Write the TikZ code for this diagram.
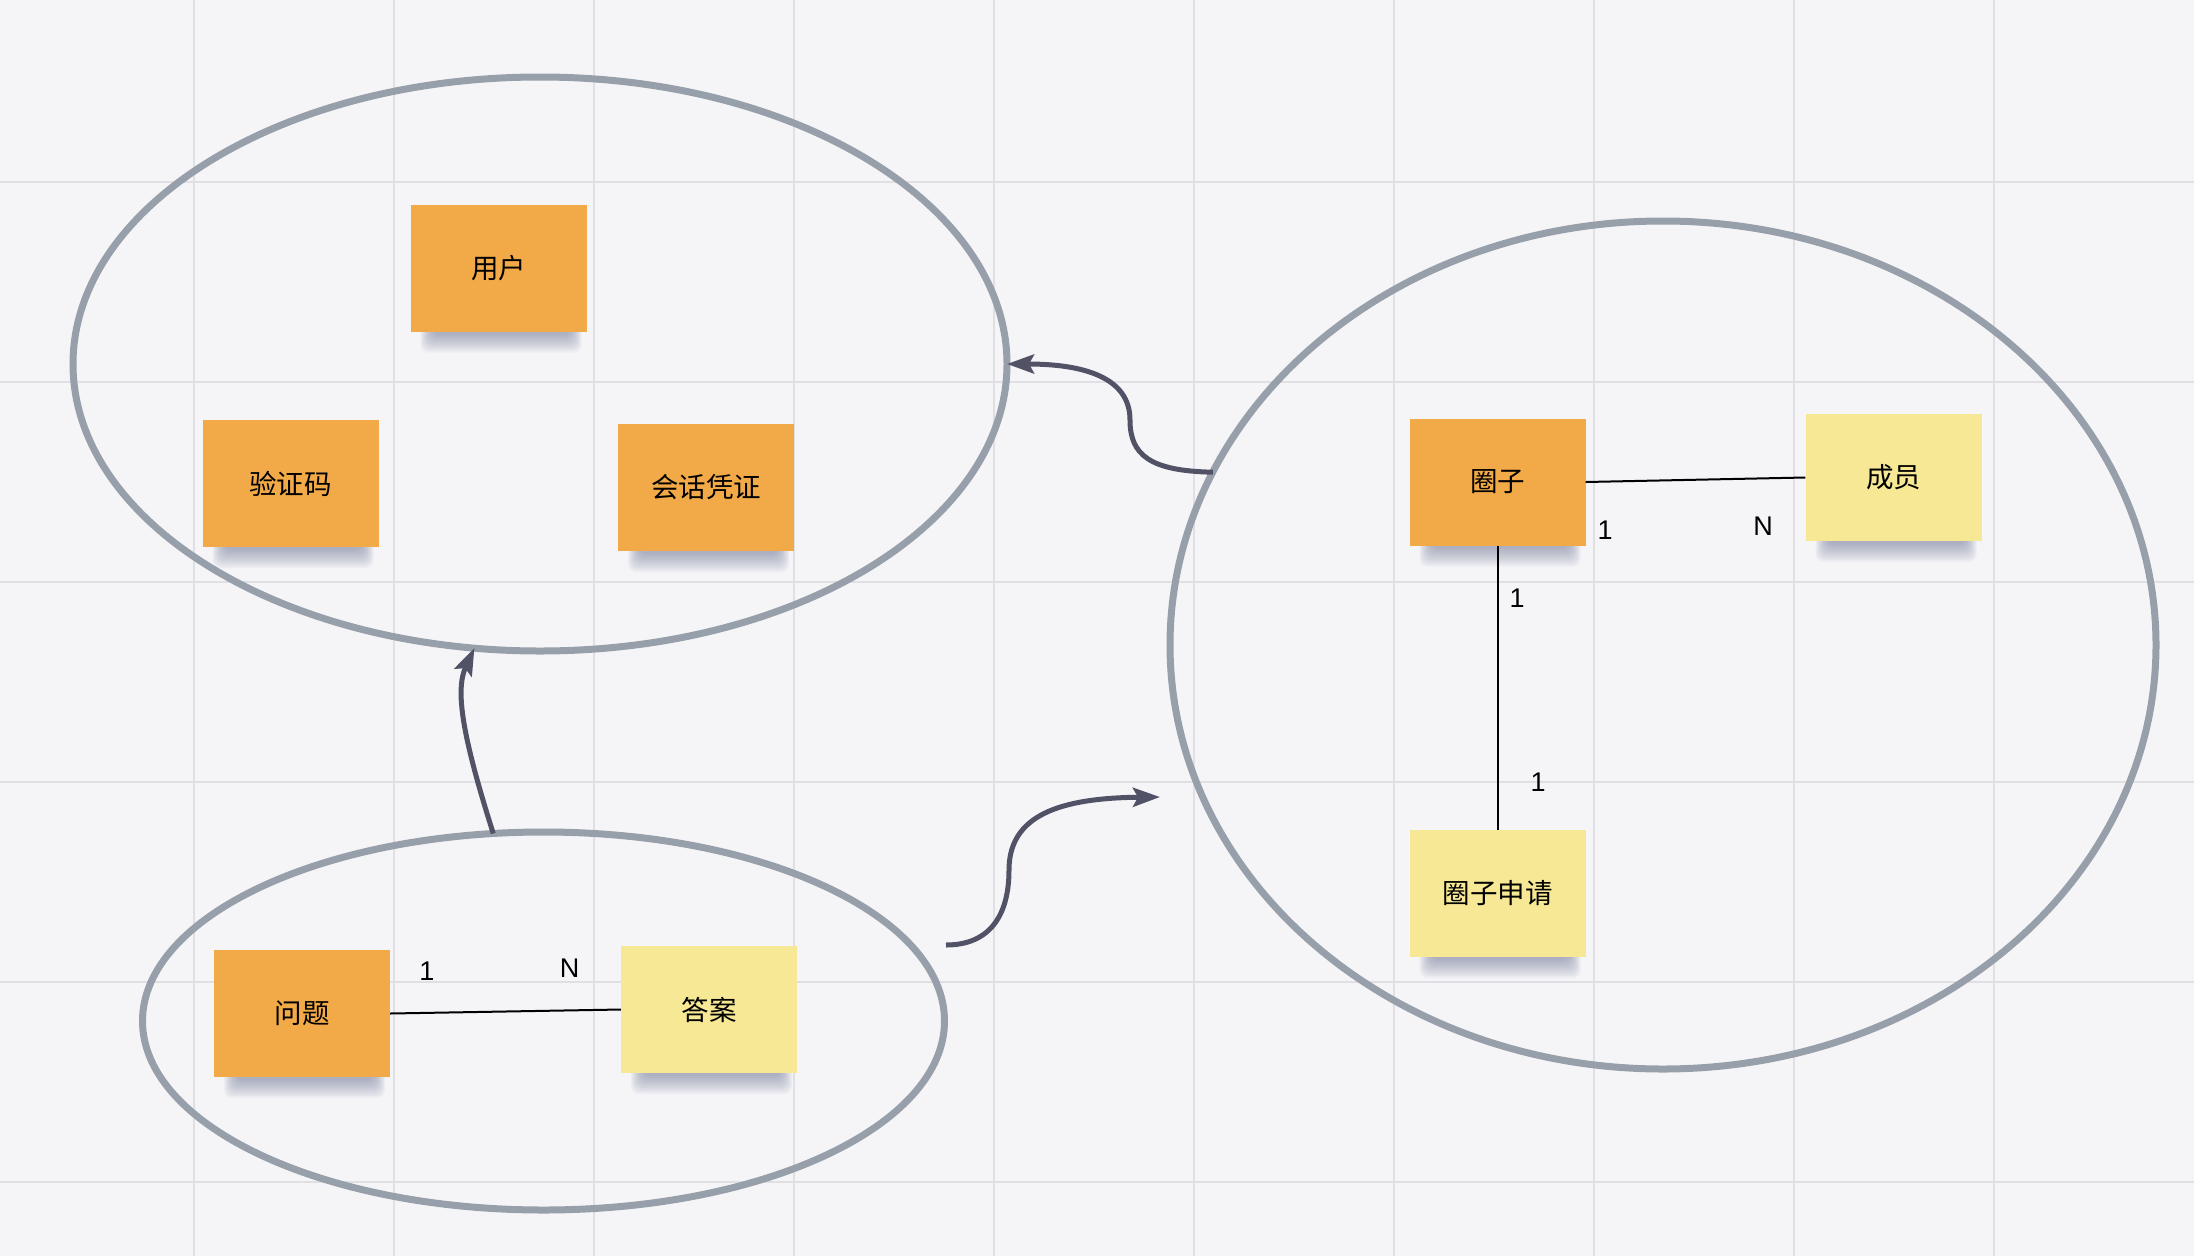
\documentclass[tikz,border=0pt]{standalone}
\usepackage{fontspec}
\setmainfont{Liberation Sans}
\newfontfamily\cjk{Noto Sans CJK SC}
\usetikzlibrary{shapes.geometric,arrows.meta}
\definecolor{bgc}{RGB}{245,245,248}
\definecolor{gridc}{RGB}{224,224,228}
\definecolor{ellc}{RGB}{151,160,170}
\definecolor{arrc}{RGB}{82,82,102}
\definecolor{orng}{RGB}{242,169,71}
\definecolor{yelw}{RGB}{246,232,148}
\definecolor{shc}{RGB}{85,95,130}
\pgfdeclarelayer{bgl}
\pgfdeclarelayer{shl}
\pgfsetlayers{bgl,shl,main}
\newcommand\notesh[1]{%
  \begin{pgfonlayer}{shl}
    \foreach \i in {0,...,9}{
      \fill[shc,opacity=0.055,rounded corners=8pt]
        ([xshift={22pt-\i*1.3pt},yshift=20pt]#1.south west) rectangle
        ([xshift={-16pt+\i*1.2pt},yshift={-3pt-\i*2pt}]#1.south east);
    }
  \end{pgfonlayer}}
\begin{document}
\begin{tikzpicture}[x=1pt,y=-1pt,
  note/.style={minimum width=176pt,minimum height=127pt,inner sep=0pt,
    font=\cjk\fontsize{27.5}{32}\selectfont},
  onote/.style={note,fill=orng},
  ynote/.style={note,fill=yelw},
  group/.style={ellipse,draw=ellc,line width=7pt,inner sep=0pt,outer sep=0pt},
  rel/.style={draw=black,line width=2pt},
  flow/.style={draw=arrc,line width=5pt,
    -{Stealth[length=27pt,width=19pt,inset=5pt]}},
  card/.style={font=\fontsize{27}{30}\selectfont,inner sep=0pt}
]
\useasboundingbox (0,0) rectangle (2194,1256);
\begin{pgfonlayer}{bgl}
  \fill[bgc] (0,0) rectangle (2194,1256);
  \foreach \gx in {194,394,...,1994}{
    \draw[gridc,line width=1.5pt] (\gx,0) -- (\gx,1256);
  }
  \foreach \gy in {182,382,...,1182}{
    \draw[gridc,line width=1.5pt] (0,\gy) -- (2194,\gy);
  }
\end{pgfonlayer}

% groups
\node[group,minimum width=934pt,minimum height=574pt] (E1) at (540,364) {};
\node[group,minimum width=986pt,minimum height=848pt] (E2) at (1663,645) {};
\node[group,minimum width=802pt,minimum height=378pt] (E3) at (543.5,1021) {};

% notes
\node[onote] (yonghu) at (498.5,268) {用户};
\node[onote] (yzm) at (290.5,483.5) {验证码};
\node[onote] (hhpz) at (706,487.5) {会话凭证};
\node[onote] (quanzi) at (1497.5,482) {圈子};
\node[ynote] (chengyuan) at (1893.5,477.5) {成员};
\node[ynote] (sqing) at (1497.5,893.5) {圈子申请};
\node[onote] (wenti) at (302,1013.5) {问题};
\node[ynote] (daan) at (709,1009.5) {答案};

\notesh{yonghu}
\notesh{yzm}
\notesh{hhpz}
\notesh{quanzi}
\notesh{chengyuan}
\notesh{sqing}
\notesh{wenti}
\notesh{daan}

% relations
\draw[rel] (quanzi.east) -- (chengyuan.west);
\draw[rel] (quanzi.south) -- (sqing.north);
\draw[rel] (wenti.east) -- (daan.west);

\node[card] (c1) at (1605,530) {1};
\node[card] (c2) at (1763,526) {N};
\node[card] (c3) at (1517,598) {1};
\node[card] (c4) at (1538,782) {1};
\node[card] (c5) at (427,971) {1};
\node[card] (c6) at (569.5,968) {N};

% flows
\coordinate (m1) at (1130,420);
\draw[flow] (E2.159) .. controls (1150,471) and (1130,455) .. (m1)
  .. controls (1130,378) and (1085,364) .. (E1.east);
\draw[flow] (E3.105) .. controls (462,735) and (455,690) .. (E1.257);
\coordinate (a3s) at (946,945);
\coordinate (m3) at (1009,870);
\coordinate (a3e) at (1160,797);
\draw[flow] (a3s) .. controls (990,945) and (1009,915) .. (m3)
  .. controls (1009,815) and (1060,798) .. (a3e);
\end{tikzpicture}
\end{document}
